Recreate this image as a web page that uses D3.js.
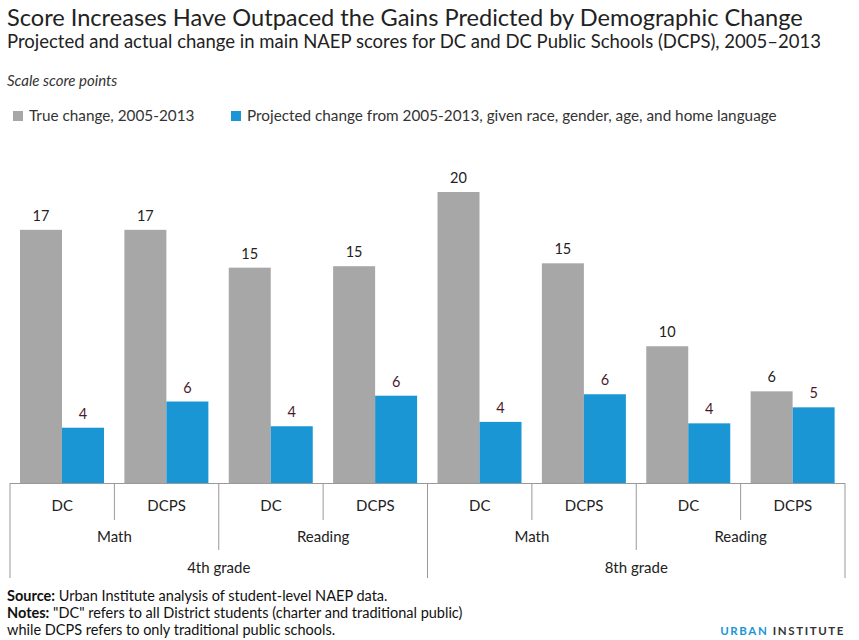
<!DOCTYPE html>
<html><head><meta charset="utf-8">
<script src="https://cdn.jsdelivr.net/npm/d3@7"></script>
<style>body{margin:0;background:#fff}text{font-family:Lato,"Open Sans",sans-serif}</style>
</head><body><svg id="c" width="859" height="640"></svg>
<script>
const schools=["DC","DCPS","DC","DCPS","DC","DCPS","DC","DCPS"];
const subjects=["Math","Reading","Math","Reading"];
const grades=["4th grade","8th grade"];
const trueChange=[17.4,17.4,14.8,14.9,20,15.1,9.4,6.3];
const projected=[3.8,5.6,3.9,6.0,4.2,6.1,4.1,5.2];
const trueLabels=[17,17,15,15,20,15,10,6];
const projLabels=[4,6,4,6,4,6,4,5];
const svg=d3.select("#c");
const L=10,R=845,base=483;
const x=d3.scaleBand().domain(d3.range(8)).range([L,R]);
const y=d3.scaleLinear().domain([0,20]).range([base,192]);
svg.append("text").attr("x",7).attr("y",26).attr("font-size",23.6).attr("fill","#222").text("Score Increases Have Outpaced the Gains Predicted by Demographic Change");
svg.append("text").attr("x",7).attr("y",48).attr("font-size",18.5).attr("fill","#222").text("Projected and actual change in main NAEP scores for DC and DC Public Schools (DCPS), 2005–2013");
svg.append("text").attr("x",7).attr("y",86).attr("font-size",15).attr("font-style","italic").attr("fill","#333").text("Scale score points");
const leg=[["True change, 2005-2013","#a7a7a7",13],["Projected change from 2005-2013, given race, gender, age, and home language","#1a96d4",231]];
leg.forEach(l=>{svg.append("rect").attr("x",l[2]).attr("y",111).attr("width",10).attr("height",10).attr("fill",l[1]);
svg.append("text").attr("x",l[2]+16).attr("y",121).attr("font-size",15.3).attr("fill","#333").text(l[0]);});
const bw=42;
d3.range(8).forEach(i=>{
 const x0=x(i)+10;
 svg.append("rect").attr("x",x0).attr("y",y(trueChange[i])).attr("width",bw).attr("height",base-y(trueChange[i])).attr("fill","#a7a7a7");
 svg.append("rect").attr("x",x0+bw).attr("y",y(projected[i])).attr("width",bw).attr("height",base-y(projected[i])).attr("fill","#1a96d4");
 svg.append("text").attr("x",x0+bw/2).attr("y",y(trueChange[i])-9).attr("text-anchor","middle").attr("font-size",14.5).attr("fill","#222").text(trueLabels[i]);
 svg.append("text").attr("x",x0+bw*1.5).attr("y",y(projected[i])-9).attr("text-anchor","middle").attr("font-size",14.5).attr("fill","#4a1a2a").text(projLabels[i]);
 svg.append("text").attr("x",x(i)+x.bandwidth()/2).attr("y",511).attr("text-anchor","middle").attr("font-size",15).attr("fill","#222").text(schools[i]);
});
const ln=(x1,y1,x2,y2)=>svg.append("line").attr("x1",x1).attr("y1",y1).attr("x2",x2).attr("y2",y2).attr("stroke","#999").attr("stroke-width",1);
ln(L,base+0.5,R,base+0.5);
d3.range(1,8).forEach(i=>{ln(x(i),base,x(i),i%2?520:(i==4?578:550));});
ln(L,base,L,578);ln(R,base,R,578);
subjects.forEach((s,j)=>svg.append("text").attr("x",x(2*j)+x.bandwidth()).attr("y",542).attr("text-anchor","middle").attr("font-size",15).attr("fill","#222").text(s));
grades.forEach((g,j)=>svg.append("text").attr("x",x(4*j)+2*x.bandwidth()).attr("y",573).attr("text-anchor","middle").attr("font-size",15).attr("fill","#222").text(g));
const f=svg.append("g").attr("font-size",14.5).attr("fill","#111");
const t1=f.append("text").attr("x",7).attr("y",601);t1.append("tspan").attr("font-weight","bold").text("Source:");t1.append("tspan").text(" Urban Institute analysis of student-level NAEP data.");
const t2=f.append("text").attr("x",7).attr("y",618);t2.append("tspan").attr("font-weight","bold").text("Notes:");t2.append("tspan").text(" \"DC\" refers to all District students (charter and traditional public)");
f.append("text").attr("x",7).attr("y",635).text("while DCPS refers to only traditional public schools.");
svg.append("text").attr("x",845).attr("y",635).attr("text-anchor","end").attr("font-size",11.5).attr("font-weight","bold").attr("letter-spacing",1.6).attr("fill","#1a96d4").text("URBAN ").append("tspan").attr("fill","#333").text("INSTITUTE");
</script></body></html>
